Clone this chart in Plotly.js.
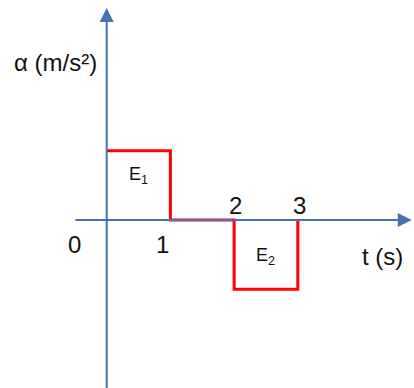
<!DOCTYPE html>
<html>
<head>
<meta charset="utf-8">
<script src="https://cdn.plot.ly/plotly-3.0.1.min.js"></script>
<style>
  html, body { margin: 0; padding: 0; background: #fff; }
  #chart { width: 414px; height: 388px; }
</style>
</head>
<body>
<div id="chart"></div>
<script>
// Step profile of acceleration against time
const times = [0, 1, 2, 3];
const accel = [1, 0, -1, 0];

// Tick labels along the time axis
const tickTimes = [0, 1, 2, 3];
const tickText = ['0', '1', '2', '3'];

// Area labels
const areaText = ['E<sub>1</sub>', 'E<sub>2</sub>'];
const areaX = [0.5, 2.5];
const areaY = [0.64, -0.53];

const axisColor = '#4472b4';
const font = 'Liberation Sans, Arial, sans-serif';

const trace = {
  x: times,
  y: accel,
  mode: 'lines',
  line: { shape: 'hv', color: '#ff0000', width: 3 },
  hoverinfo: 'skip'
};

const annotations = [];

// Axis lines with arrow heads
annotations.push({
  x: 4.79, y: 0, ax: -0.513, ay: 0,
  xref: 'x', yref: 'y', axref: 'x', ayref: 'y',
  text: '', showarrow: true, arrowhead: 2, arrowsize: 1.4,
  arrowwidth: 2, arrowcolor: axisColor
});
annotations.push({
  x: 0, y: 3.064, ax: 0, ay: -2.5,
  xref: 'x', yref: 'y', axref: 'x', ayref: 'y',
  text: '', showarrow: true, arrowhead: 2, arrowsize: 1.4,
  arrowwidth: 2, arrowcolor: axisColor
});

// Time tick labels: 0 and 1 below the axis, 2 and 3 above it
const tickShiftX = [-32, -8, 1, 2];
const tickShiftY = [-25, -25, 14, 14];
tickTimes.forEach((t, i) => {
  annotations.push({
    x: t, y: 0, xref: 'x', yref: 'y', text: tickText[i],
    xanchor: 'center', yanchor: 'middle',
    showarrow: false, xshift: tickShiftX[i], yshift: tickShiftY[i],
    font: { family: font, size: 24, color: '#111' }
  });
});

// Area labels
areaText.forEach((s, i) => {
  annotations.push({
    x: areaX[i], y: areaY[i], xref: 'x', yref: 'y', text: s,
    xanchor: 'center', yanchor: 'middle',
    showarrow: false, font: { family: font, size: 18, color: '#111' }
  });
});

// Axis titles (positions in pixels, converted below)
annotations.push({
  x: 56, y: 63, xref: 'paper', yref: 'paper', text: '\u03b1 (m/s\u00b2)',
  xanchor: 'center', yanchor: 'middle',
  showarrow: false, font: { family: font, size: 24, color: '#111' }
});
annotations.push({
  x: 382, y: 256, xref: 'paper', yref: 'paper', text: 't (s)',
  xanchor: 'center', yanchor: 'middle',
  showarrow: false, font: { family: font, size: 24, color: '#111' }
});

annotations.forEach(a => {
  if (a.xref === 'paper') { a.x = a.x / 414; a.y = 1 - a.y / 388; }
});

const layout = {
  width: 414,
  height: 388,
  margin: { l: 0, r: 0, t: 0, b: 0 },
  paper_bgcolor: '#ffffff',
  plot_bgcolor: '#ffffff',
  showlegend: false,
  xaxis: { range: [-1.675, 4.824], visible: false, fixedrange: true },
  yaxis: { range: [-2.428, 3.179], visible: false, fixedrange: true },
  annotations: annotations
};

Plotly.newPlot('chart', [trace], layout, { displayModeBar: false, staticPlot: true });
</script>
</body>
</html>
